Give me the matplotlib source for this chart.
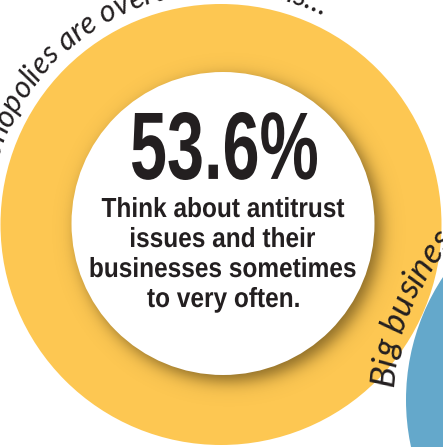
import numpy as np
import matplotlib
matplotlib.use('Agg')
import matplotlib.pyplot as plt
from matplotlib.patches import Circle, PathPatch
from matplotlib.textpath import TextPath
from matplotlib.font_manager import FontProperties
from matplotlib.transforms import Affine2D

# --- content ---
big_number = "53.6%"
caption_lines = ["Think about antitrust", "issues and their",
                 "businesses sometimes", "to very often."]
top_arc_text = "Monopolies are overtaking firms..."
side_arc_text = "Big business is everywhere..."

YELLOW = '#FDC752'
BLUE = '#64A8CB'
INK = '#231F20'

W, H = 443, 447
DPI = 100

fig = plt.figure(figsize=(W / DPI, H / DPI), dpi=DPI)
ax = fig.add_axes([0, 0, 1, 1])
ax.set_xlim(0, W)
ax.set_ylim(H, 0)
ax.set_aspect('equal')
ax.axis('off')

# circles (pixel coords, y down)
ycx, ycy, yr = 221, 224.5, 220.5
wcx, wcy, wr = 223, 223.5, 151.5
bcx, bcy, br = 629, 400, 223

ax.add_patch(Circle((ycx, ycy), yr, color=YELLOW, lw=0, zorder=1))
ax.add_patch(Circle((bcx, bcy), br, color=BLUE, lw=0, zorder=1))

# soft drop shadow of the white disc, only on the yellow ring
yy, xx = np.mgrid[0:H, 0:W] + 0.5
d_sh = np.hypot(xx - (wcx + 6), yy - (wcy + 6))
alpha = 0.66 / (1 + np.exp((d_sh - wr) / 5.0))
inside = np.clip(yr - np.hypot(xx - ycx, yy - ycy) + 0.5, 0, 1)
rgba = np.zeros((H, W, 4))
rgba[..., 0] = 0.30
rgba[..., 1] = 0.22
rgba[..., 2] = 0.06
rgba[..., 3] = alpha * inside
ax.imshow(rgba, extent=(0, W, H, 0), zorder=2, interpolation='bilinear')

ax.add_patch(Circle((wcx, wcy), wr, color='white', lw=0, zorder=3))

fp_bold = FontProperties(family='Liberation Sans', weight='bold')


def put_path(tp, sx, sy, x, ybase):
    # flip y because the axes run top-down
    tr = Affine2D().scale(sx, -sy).translate(x, ybase)
    ax.add_patch(PathPatch(tr.transform_path(tp), color=INK, lw=0, zorder=4))


# big number, squeezed into its box
tp = TextPath((0, 0), big_number, size=100, prop=fp_bold)
ext = tp.get_extents()
x0, x1, ytop, ybot = 132, 317, 112, 180
sx = (x1 - x0) / ext.width
sy = (ybot - ytop) / ext.height
put_path(tp, sx, sy, x0 - ext.x0 * sx, ybot + ext.y0 * sy)

# caption, condensed like the original
cap_h = TextPath((0, 0), 'T', size=100, prop=fp_bold).get_extents().height
paths = [TextPath((0, 0), l, size=100, prop=fp_bold) for l in caption_lines]
fy = 19.0 / cap_h
fx = 265.0 / paths[2].get_extents().width
baselines = [217, 247, 277, 307]
for tp, yb in zip(paths, baselines):
    e = tp.get_extents()
    xs = 223 - (e.x0 + e.width / 2) * fx
    put_path(tp, fx, fy, xs, yb)


def arc_text(s, cx, cy, r, anchor_idx, anchor_deg, size, fp):
    """Place s clockwise along a circle, letters pointing outward."""
    bars = TextPath((0, 0), '||', size=size, prop=fp).get_extents().width

    def width(t):
        w = TextPath((0, 0), '|' + t + '|', size=size, prop=fp).get_extents().width
        return (w - bars) * DPI / 72.0

    mids = [(width(s[:i]) + width(s[:i + 1])) / 2 for i in range(len(s))]
    for i, ch in enumerate(s):
        if ch == ' ':
            continue
        th = np.radians(anchor_deg) - (mids[i] - mids[anchor_idx]) / r
        px = cx + r * np.cos(th)
        py = cy - r * np.sin(th)
        ax.text(px, py, ch, fontproperties=fp, fontsize=size, color=INK,
                ha='center', va='baseline', rotation=np.degrees(th) - 90,
                rotation_mode='anchor', zorder=5)


fp_hand = FontProperties(family='Lato', style='italic')
arc_text(top_arc_text, ycx, ycy, 232, 11, 130.0, 22, fp_hand)
arc_text(side_arc_text, bcx, bcy, 236, 0, 174.4, 25, fp_hand)

fig.savefig('out.png', dpi=DPI)
